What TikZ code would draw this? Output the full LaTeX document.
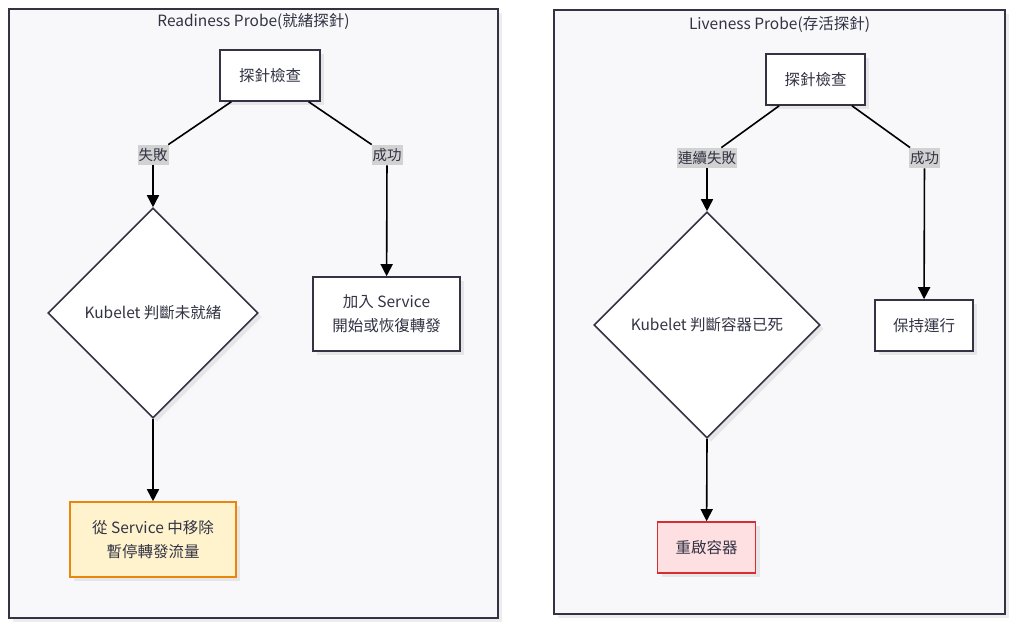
\documentclass[tikz,border=0pt]{standalone}
\usepackage{fontspec}
\setmainfont{Noto Sans CJK TC}
\usepackage{tikz}
\usetikzlibrary{arrows.meta,shapes.geometric,shadows}
\definecolor{Ink}{RGB}{51,51,68}
\definecolor{Panel}{RGB}{248,248,251}
\definecolor{Tag}{RGB}{210,210,210}
\definecolor{WarnFill}{RGB}{255,243,205}
\definecolor{WarnLine}{RGB}{232,135,10}
\definecolor{DeadFill}{RGB}{255,224,226}
\definecolor{DeadLine}{RGB}{212,45,50}
\tikzset{
  softshadow/.style={drop shadow={shadow xshift=4pt,shadow yshift=-4pt,fill=black,opacity=0.07}},
  frame/.style={draw=Ink,line width=1.8pt,fill=Panel,softshadow},
  frametitle/.style={text=Ink,font=\fontsize{15.5}{18}\selectfont},
  stepbox/.style={draw=Ink,line width=1.6pt,fill=white,text=Ink,align=center,
    font=\fontsize{15.5}{24}\selectfont,inner sep=0pt,softshadow},
  judge/.style={diamond,aspect=1,draw=Ink,line width=1.6pt,fill=white,text=Ink,
    font=\fontsize{15.5}{18}\selectfont,inner sep=0pt,softshadow},
  tag/.style={fill=Tag,text=Ink,font=\fontsize{14.5}{17}\selectfont,inner xsep=1pt,inner ysep=3.5pt},
  flow/.style={line width=1.6pt,black},
  flowto/.style={flow,-{Triangle[length=12pt,width=12pt]}},
}

\begin{document}
\begin{tikzpicture}[x=1pt,y=-1pt]
\useasboundingbox (0,0) rectangle (1024,629);
% readiness side
\draw[frame] (9,9) rectangle (498,618);
\node[frametitle] (readyTitle) at (253.5,21) {Readiness Probe(就緒探針)};
\node[stepbox,minimum width=100,minimum height=51] (probeR) at (270,75.5) {探針檢查};
\node[tag] (failR) at (153,155) {失敗};
\node[tag] (okR) at (387,155) {成功};
\node[judge,minimum width=210,minimum height=210] (judgeR) at (153,313) {Kubelet 判斷未就緒};
\node[stepbox,minimum width=147,minimum height=74] (joinR) at (386.5,314) {加入 Service\\開始或恢復轉發};
\node[stepbox,draw=WarnLine,fill=WarnFill,minimum width=166,minimum height=75] (dropR) at (153,539.5) {從 Service 中移除\\暫停轉發流量};
\draw[flow] (probeR) -- (failR);
\draw[flow] (probeR) -- (okR);
\draw[flowto] (failR) -- (judgeR.north);
\draw[flowto] (okR) -- (joinR);
\draw[flowto] (judgeR.south) -- (dropR);
% liveness side
\draw[frame] (554,10) rectangle (1005,614);
\node[frametitle] (liveTitle) at (779.5,24) {Liveness Probe(存活探針)};
\node[stepbox,minimum width=99,minimum height=51] (probeL) at (815.5,79.5) {探針檢查};
\node[tag] (failL) at (707,158) {連續失敗};
\node[tag] (okL) at (924.5,158) {成功};
\node[judge,minimum width=226,minimum height=226] (judgeL) at (707,325) {Kubelet 判斷容器已死};
\node[stepbox,minimum width=98,minimum height=51] (keepL) at (924,325.5) {保持運行};
\node[stepbox,draw=DeadLine,fill=DeadFill,minimum width=98,minimum height=51] (restartL) at (706.5,547.5) {重啟容器};
\draw[flow] (probeL) -- (failL);
\draw[flow] (probeL) -- (okL);
\draw[flowto] (failL) -- (judgeL.north);
\draw[flowto] (okL) -- (keepL);
\draw[flowto] (judgeL.south) -- (restartL);
\end{tikzpicture}
\end{document}
